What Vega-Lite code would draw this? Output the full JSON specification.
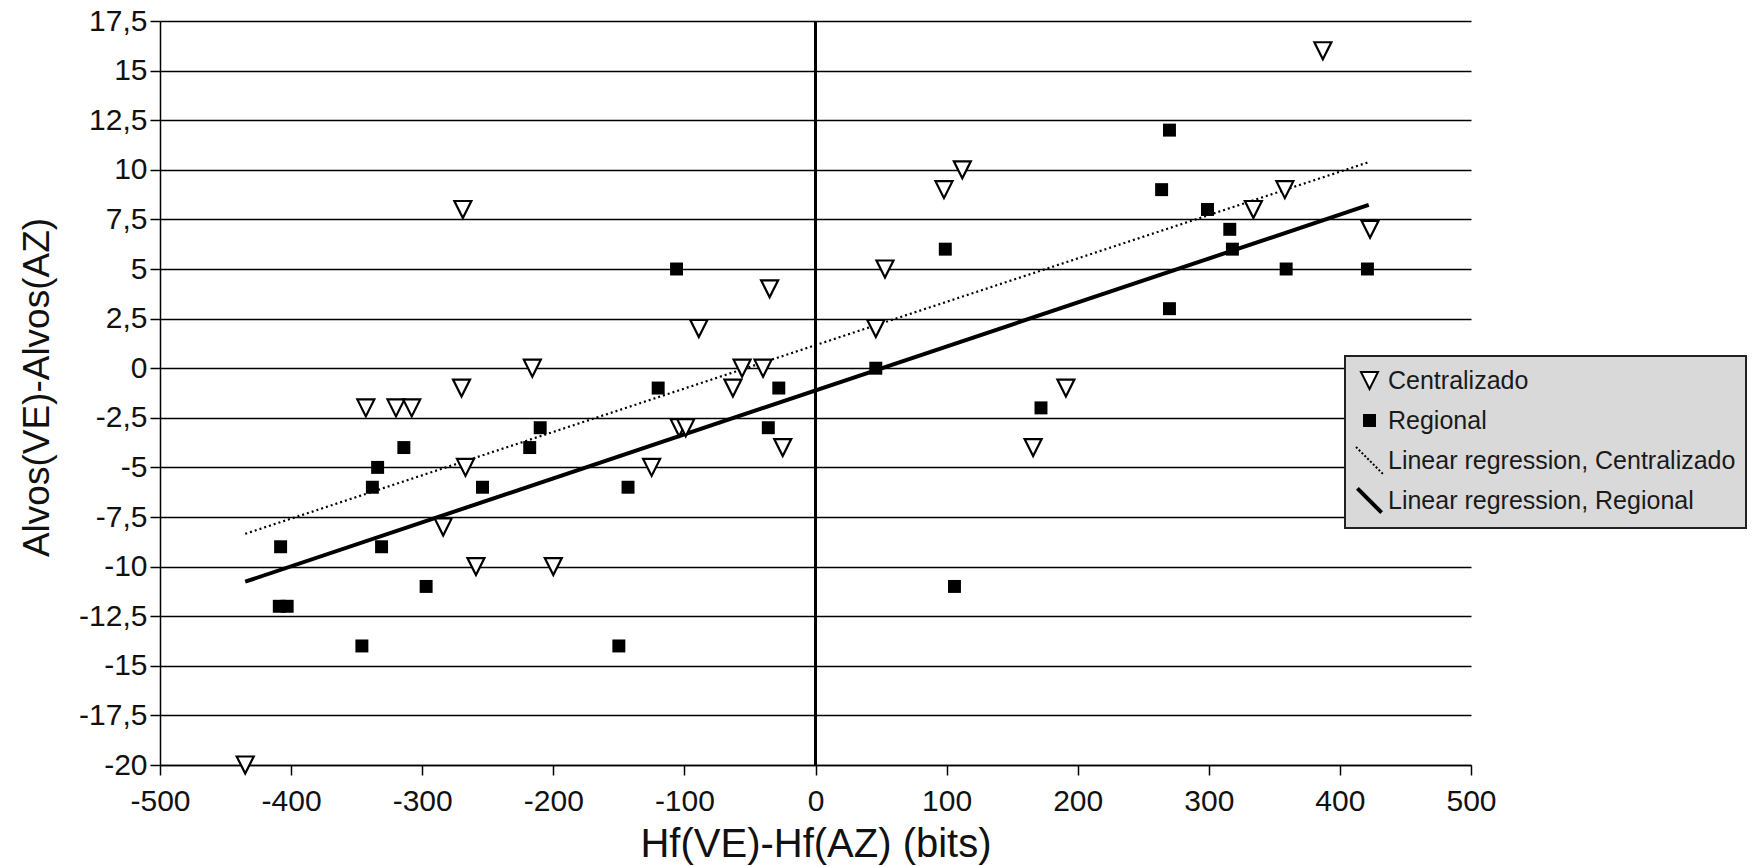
{
  "$schema": "https://vega.github.io/schema/vega-lite/v6.json",
  "width": 1311,
  "height": 744,
  "autosize": {"type": "none"},
  "padding": {"left": 160, "top": 21, "right": 285, "bottom": 101},
  "background": "white",
  "config": {
    "locale": {"number": {"decimal": ",", "thousands": ".", "grouping": [3], "currency": ["", " €"], "minus": "-"}},
    "view": {"stroke": null},
    "font": "Liberation Sans",
    "legend": {
      "orient": "none",
      "legendX": 1185,
      "legendY": 335,
      "fillColor": "#d9d9d9",
      "strokeColor": "#222222",
      "strokeWidth": 2,
      "padding": 10,
      "labelFont": "Liberation Sans",
      "labelFontSize": 25,
      "labelColor": "#1a1a1a",
      "labelOffset": 4,
      "labelLimit": 600,
      "symbolSize": 729,
      "rowPadding": 5,
      "title": null
    }
  },
  "data": {
    "values": [
      {"x": -435, "y": -20, "key": "Centralizado"},
      {"x": -343, "y": -2, "key": "Centralizado"},
      {"x": -320, "y": -2, "key": "Centralizado"},
      {"x": -308, "y": -2, "key": "Centralizado"},
      {"x": -284, "y": -8, "key": "Centralizado"},
      {"x": -270, "y": -1, "key": "Centralizado"},
      {"x": -269, "y": 8, "key": "Centralizado"},
      {"x": -267, "y": -5, "key": "Centralizado"},
      {"x": -259, "y": -10, "key": "Centralizado"},
      {"x": -216, "y": 0, "key": "Centralizado"},
      {"x": -200, "y": -10, "key": "Centralizado"},
      {"x": -125, "y": -5, "key": "Centralizado"},
      {"x": -104, "y": -3, "key": "Centralizado"},
      {"x": -99, "y": -3, "key": "Centralizado"},
      {"x": -89, "y": 2, "key": "Centralizado"},
      {"x": -63, "y": -1, "key": "Centralizado"},
      {"x": -56, "y": 0, "key": "Centralizado"},
      {"x": -40, "y": 0, "key": "Centralizado"},
      {"x": -35, "y": 4, "key": "Centralizado"},
      {"x": -25, "y": -4, "key": "Centralizado"},
      {"x": 46, "y": 2, "key": "Centralizado"},
      {"x": 53, "y": 5, "key": "Centralizado"},
      {"x": 98, "y": 9, "key": "Centralizado"},
      {"x": 112, "y": 10, "key": "Centralizado"},
      {"x": 166, "y": -4, "key": "Centralizado"},
      {"x": 191, "y": -1, "key": "Centralizado"},
      {"x": 334, "y": 8, "key": "Centralizado"},
      {"x": 358, "y": 9, "key": "Centralizado"},
      {"x": 387, "y": 16, "key": "Centralizado"},
      {"x": 423, "y": 7, "key": "Centralizado"},
      {"x": -409, "y": -12, "key": "Regional"},
      {"x": -403, "y": -12, "key": "Regional"},
      {"x": -408, "y": -9, "key": "Regional"},
      {"x": -346, "y": -14, "key": "Regional"},
      {"x": -338, "y": -6, "key": "Regional"},
      {"x": -334, "y": -5, "key": "Regional"},
      {"x": -331, "y": -9, "key": "Regional"},
      {"x": -314, "y": -4, "key": "Regional"},
      {"x": -297, "y": -11, "key": "Regional"},
      {"x": -254, "y": -6, "key": "Regional"},
      {"x": -218, "y": -4, "key": "Regional"},
      {"x": -210, "y": -3, "key": "Regional"},
      {"x": -150, "y": -14, "key": "Regional"},
      {"x": -143, "y": -6, "key": "Regional"},
      {"x": -120, "y": -1, "key": "Regional"},
      {"x": -106, "y": 5, "key": "Regional"},
      {"x": -36, "y": -3, "key": "Regional"},
      {"x": -28, "y": -1, "key": "Regional"},
      {"x": 46, "y": 0, "key": "Regional"},
      {"x": 99, "y": 6, "key": "Regional"},
      {"x": 106, "y": -11, "key": "Regional"},
      {"x": 172, "y": -2, "key": "Regional"},
      {"x": 264, "y": 9, "key": "Regional"},
      {"x": 270, "y": 12, "key": "Regional"},
      {"x": 270, "y": 3, "key": "Regional"},
      {"x": 299, "y": 8, "key": "Regional"},
      {"x": 316, "y": 7, "key": "Regional"},
      {"x": 318, "y": 6, "key": "Regional"},
      {"x": 359, "y": 5, "key": "Regional"},
      {"x": 421, "y": 5, "key": "Regional"}
    ]
  },
  "layer": [
    {
      "mark": {"type": "rule", "color": "#000000", "strokeWidth": 1.5},
      "encoding": {
        "x": {"datum": 0, "type": "quantitative"}
      }
    },
    {
      "transform": [
        {"filter": "datum.key === 'Centralizado'"},
        {"regression": "y", "on": "x", "extent": [-435, 422]}
      ],
      "mark": {"type": "line", "color": "#000000", "strokeWidth": 2.2, "strokeDash": [2, 3]},
      "encoding": {
        "x": {"field": "x", "type": "quantitative"},
        "y": {"field": "y", "type": "quantitative"}
      }
    },
    {
      "transform": [
        {"filter": "datum.key === 'Regional'"},
        {"regression": "y", "on": "x", "extent": [-435, 422]}
      ],
      "mark": {"type": "line", "color": "#000000", "strokeWidth": 4},
      "encoding": {
        "x": {"field": "x", "type": "quantitative"},
        "y": {"field": "y", "type": "quantitative"}
      }
    },
    {
      "transform": [{"filter": "datum.key === 'Regional'"}],
      "mark": {"type": "point", "filled": true, "fill": "#000000", "strokeWidth": 0, "size": 729, "opacity": 1},
      "encoding": {
        "x": {"field": "x", "type": "quantitative"},
        "y": {"field": "y", "type": "quantitative"},
        "shape": {
          "field": "key",
          "type": "nominal",
          "scale": {
            "domain": ["Centralizado", "Regional", "Linear regression, Centralizado", "Linear regression, Regional"],
            "range": ["M-1,-1M1,1M-0.63,-0.63L0.63,-0.63L0,0.63Z", "M-1,-1M1,1M-0.48,-0.48L0.48,-0.48L0.48,0.48L-0.48,0.48Z", "M-1,-1L1,1", "M-1,-1M1,1M-1,-0.79L-0.79,-1L1,0.79L0.79,1Z"]
          },
          "legend": {
            "title": null,
            "encoding": {
              "symbols": {
                "fill": {"value": {"expr": "datum.value === 'Centralizado' ? '#ffffff' : datum.value === 'Linear regression, Centralizado' ? 'transparent' : '#000000'"}},
                "stroke": {"value": {"expr": "datum.value === 'Centralizado' || datum.value === 'Linear regression, Centralizado' ? '#000000' : 'transparent'"}},
                "strokeWidth": {"value": 2},
                "strokeDash": {"value": {"expr": "datum.value === 'Linear regression, Centralizado' ? [2, 2] : [1, 0]"}},
                "opacity": {"value": 1}
              }
            }
          }
        }
      }
    },
    {
      "transform": [{"filter": "datum.key === 'Centralizado'"}],
      "mark": {"type": "point", "filled": true, "fill": "#ffffff", "stroke": "#000000", "strokeWidth": 2.2, "size": 729, "opacity": 1},
      "encoding": {
        "x": {
          "field": "x",
          "type": "quantitative",
          "scale": {"domain": [-500, 500], "nice": false, "zero": false},
          "axis": {
            "title": "Hf(VE)-Hf(AZ) (bits)",
            "values": [-500, -400, -300, -200, -100, 0, 100, 200, 300, 400, 500],
            "format": "d",
            "grid": false,
            "domainColor": "#000000",
            "domainWidth": 1.5,
            "tickColor": "#000000",
            "tickWidth": 1.5,
            "tickSize": 10,
            "labelFont": "Liberation Sans",
            "labelFontSize": 30,
            "labelColor": "#111111",
            "labelPadding": 11,
            "labelFlush": false,
            "labelOverlap": false,
            "titleFont": "Liberation Sans",
            "titleFontSize": 40,
            "titleFontWeight": "normal",
            "titleColor": "#111111",
            "titlePadding": 8
          }
        },
        "y": {
          "field": "y",
          "type": "quantitative",
          "scale": {"domain": [-20, 17.5], "nice": false, "zero": false},
          "axis": {
            "title": "Alvos(VE)-Alvos(AZ)",
            "values": [-20, -17.5, -15, -12.5, -10, -7.5, -5, -2.5, 0, 2.5, 5, 7.5, 10, 12.5, 15, 17.5],
            "format": ".1~f",
            "grid": true,
            "gridColor": "#000000",
            "gridWidth": 1.5,
            "gridOpacity": 1,
            "domainColor": "#000000",
            "domainWidth": 1.5,
            "tickColor": "#000000",
            "tickWidth": 1.5,
            "tickSize": 10,
            "labelFont": "Liberation Sans",
            "labelFontSize": 30,
            "labelColor": "#111111",
            "labelPadding": 3,
            "labelFlush": false,
            "labelOverlap": false,
            "titleFont": "Liberation Sans",
            "titleFontSize": 37,
            "titleFontWeight": "normal",
            "titleColor": "#111111",
            "titlePadding": 22,
            "titleY": 366
          }
        },
        "shape": {
          "field": "key",
          "type": "nominal",
          "scale": {
            "domain": ["Centralizado", "Regional", "Linear regression, Centralizado", "Linear regression, Regional"],
            "range": ["M-1,-1M1,1M-0.63,-0.63L0.63,-0.63L0,0.63Z", "M-1,-1M1,1M-0.48,-0.48L0.48,-0.48L0.48,0.48L-0.48,0.48Z", "M-1,-1L1,1", "M-1,-1M1,1M-1,-0.79L-0.79,-1L1,0.79L0.79,1Z"]
          },
          "legend": {
            "title": null,
            "encoding": {
              "symbols": {
                "fill": {"value": {"expr": "datum.value === 'Centralizado' ? '#ffffff' : datum.value === 'Linear regression, Centralizado' ? 'transparent' : '#000000'"}},
                "stroke": {"value": {"expr": "datum.value === 'Centralizado' || datum.value === 'Linear regression, Centralizado' ? '#000000' : 'transparent'"}},
                "strokeWidth": {"value": 2},
                "strokeDash": {"value": {"expr": "datum.value === 'Linear regression, Centralizado' ? [2, 2] : [1, 0]"}},
                "opacity": {"value": 1}
              }
            }
          }
        }
      }
    }
  ]
}
